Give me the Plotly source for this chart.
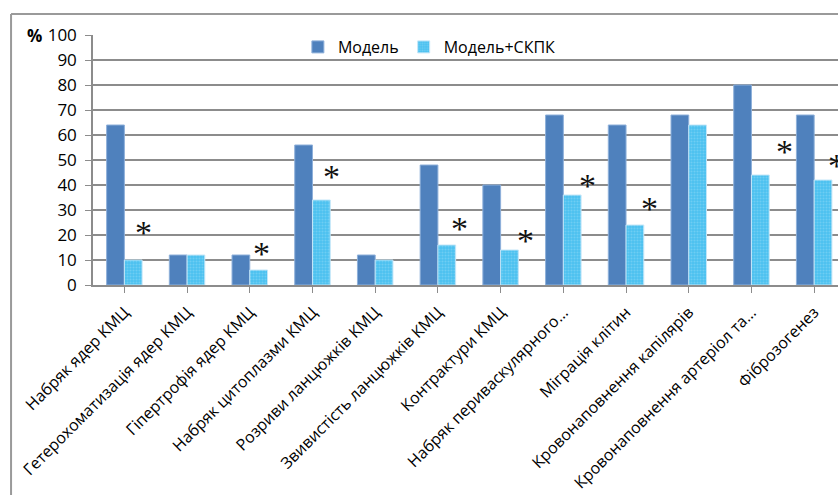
import plotly.graph_objects as go

# Category labels (long names shortened with an ellipsis, as on the axis)
categories = [
    "Набряк ядер КМЦ",
    "Гетерохоматизація ядер КМЦ",
    "Гіпертрофія ядер КМЦ",
    "Набряк цитоплазми КМЦ",
    "Розриви ланцюжків КМЦ",
    "Звивистість ланцюжків КМЦ",
    "Контрактури КМЦ",
    "Набряк периваскулярного…",
    "Міграція клітин",
    "Кровонаповнення капілярів",
    "Кровонаповнення артеріол та…",
    "Фіброзогенез",
]

# Percentages per group
model = [64, 12, 12, 56, 12, 48, 40, 68, 64, 68, 80, 68]
model_skpk = [10, 12, 6, 34, 10, 16, 14, 36, 24, 64, 44, 42]

# Significance marks: height of the "*" (in %) and horizontal shift from category centre
star_level = [22.4, None, 14, 44.8, None, 24, 19.2, 41.2, 32, None, 54.8, 49]
star_shift = [0.31, 0, 0.19, 0.31, 0, 0.35, 0.39, 0.38, 0.38, 0, 0.52, 0.36]

y_ticks = list(range(0, 101, 10))

FONT = "Open Sans"
idx = list(range(len(categories)))

fig = go.Figure()
fig.add_trace(go.Bar(
    name="Модель",
    x=idx, y=model,
    marker=dict(color="#4f81bd", line=dict(color="#8eb0da", width=1)),
))
fig.add_trace(go.Bar(
    name="Модель+СКПК",
    x=idx, y=model_skpk,
    marker=dict(
        color="#4cc1ef",
        line=dict(color="#c4e6f8", width=1),
        pattern=dict(shape=".", fillmode="overlay", fgcolor="#8fd9f8",
                     size=3, solidity=0.35),
    ),
))

annotations = []
for i, lvl in enumerate(star_level):
    if lvl is None:
        continue
    annotations.append(dict(
        x=i + star_shift[i], y=lvl, xref="x", yref="y",
        text="*", showarrow=False, yanchor="middle", xanchor="center",
        yshift=-3,
        font=dict(family="Liberation Serif", size=34, color="#111111"),
    ))

# "%" unit label beside the top of the value axis
annotations.append(dict(
    x=-0.079, y=1.0, xref="paper", yref="paper", text="<b>%</b>",
    showarrow=False, xanchor="center", yanchor="middle",
    font=dict(family=FONT, size=17, color="#000000"),
))

fig.update_layout(
    width=838, height=495,
    margin=dict(l=93, r=0, t=35, b=210, autoexpand=False),
    paper_bgcolor="white", plot_bgcolor="white",
    barmode="group", bargap=0.434, bargroupgap=0,
    font=dict(family=FONT, size=17, color="#000000"),
    showlegend=True,
    legend=dict(
        orientation="h", x=0.275, y=0.952, xanchor="left", yanchor="middle",
        bgcolor="rgba(0,0,0,0)", font=dict(family=FONT, size=16, color="#000000"),
        itemwidth=30, traceorder="normal",
    ),
    xaxis=dict(
        range=[-0.5, 11.38],
        tickmode="array", tickvals=idx, ticktext=categories,
        tickangle=-45, tickson="boundaries",
        ticks="outside", ticklen=6, tickcolor="#8c8c8c", tickwidth=1,
        ticklabelstandoff=4,
        showline=True, linecolor="#8c8c8c", linewidth=1.5,
        showgrid=False, zeroline=False,
        tickfont=dict(family=FONT, size=16, color="#000000"),
    ),
    yaxis=dict(
        range=[0, 100], tickmode="array", tickvals=y_ticks,
        ticks="outside", ticklen=6, tickcolor="#8c8c8c",
        ticklabelstandoff=5,
        showline=True, linecolor="#8c8c8c", linewidth=1.5,
        showgrid=True, gridcolor="#8c8c8c", gridwidth=1.5,
        zeroline=False,
        tickfont=dict(family=FONT, size=17, color="#000000"),
    ),
    annotations=annotations,
    shapes=[
        # outer chart frame (top and left edges)
        dict(type="line", xref="paper", yref="paper",
             x0=-0.110, y0=1.084, x1=1.2, y1=1.084,
             line=dict(color="#9a9a9a", width=2)),
        dict(type="line", xref="paper", yref="paper",
             x0=-0.110, y0=1.084, x1=-0.110, y1=-1.0,
             line=dict(color="#9a9a9a", width=2)),
    ],
)

fig.write_html("out.html")
